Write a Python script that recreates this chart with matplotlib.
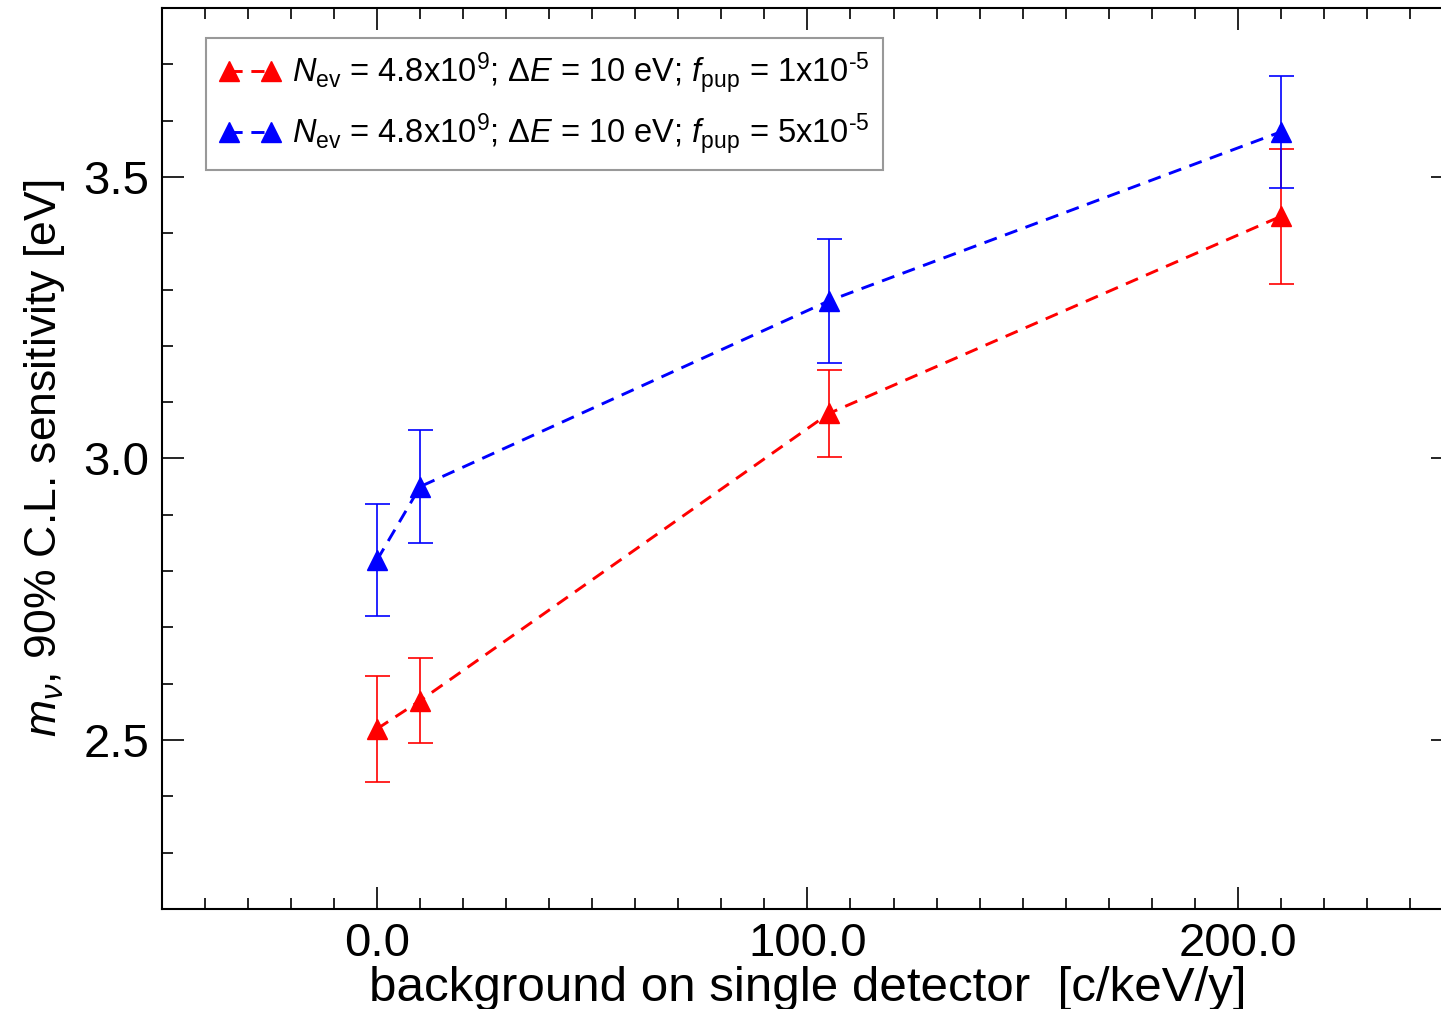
import matplotlib
matplotlib.use('Agg')
import matplotlib.pyplot as plt
from matplotlib.ticker import MultipleLocator, FormatStrFormatter

plt.rcParams['font.family'] = ['Liberation Sans', 'DejaVu Sans']
plt.rcParams['mathtext.fontset'] = 'custom'
plt.rcParams['mathtext.rm'] = 'Liberation Sans'
plt.rcParams['mathtext.it'] = 'Liberation Sans:italic'
plt.rcParams['mathtext.bf'] = 'Liberation Sans:bold'

# background rate [c/keV/y] and 90% C.L. sensitivity on m_nu [eV]
bkg = [0, 10, 105, 210]
sens_f1 = [2.52, 2.57, 3.08, 3.43]
err_f1 = [0.094, 0.075, 0.078, 0.12]
sens_f5 = [2.82, 2.95, 3.28, 3.58]
err_f5 = [0.10, 0.10, 0.11, 0.10]

lab_f1 = r'$N_{\rm ev}$ = 4.8x10$^{9}$; $\Delta E$ = 10 eV; $f_{\rm pup}$ = 1x10$^{\text{-}5}$'
lab_f5 = r'$N_{\rm ev}$ = 4.8x10$^{9}$; $\Delta E$ = 10 eV; $f_{\rm pup}$ = 5x10$^{\text{-}5}$'

fig = plt.figure(figsize=(14.41, 10.09), dpi=100)
ax = fig.add_axes([0.1124, 0.0991, 0.8959, 0.8930])

for y, e, c, lab in [(sens_f1, err_f1, 'red', lab_f1),
                     (sens_f5, err_f5, 'blue', lab_f5)]:
    ax.errorbar(bkg, y, yerr=e, fmt='none', ecolor=c, elinewidth=1.2,
                capsize=9, capthick=1.2, zorder=2)
    ax.plot(bkg, y, color=c, ls=(0, (4.5, 3)), lw=2.1, marker='^',
            ms=14, label=lab, zorder=3)

ax.set_xlim(-50, 250)
ax.set_ylim(2.2, 3.8)
ax.xaxis.set_major_locator(MultipleLocator(100))
ax.xaxis.set_minor_locator(MultipleLocator(10))
ax.yaxis.set_major_locator(MultipleLocator(0.5))
ax.yaxis.set_minor_locator(MultipleLocator(0.1))
ax.xaxis.set_major_formatter(FormatStrFormatter('%.1f'))
ax.yaxis.set_major_formatter(FormatStrFormatter('%.1f'))
ax.tick_params(which='both', direction='in', top=True, right=True,
               width=1.2, labelsize=34, pad=9)
ax.tick_params(which='major', length=16)
ax.tick_params(which='minor', length=8)
for sp in ax.spines.values():
    sp.set_linewidth(1.5)

ax.set_xlabel('background on single detector  [c/keV/y]', fontsize=35.5,
              labelpad=0)
ax.set_ylabel(r'$m_{\nu}$, 90% C.L. sensitivity [eV]', fontsize=32,
              labelpad=12)

leg = ax.legend(loc='upper left', bbox_to_anchor=(0.034, 0.967),
                borderaxespad=0, fontsize=23.5, numpoints=2, handlelength=1.9,
                fancybox=False, framealpha=1, edgecolor='#999999',
                borderpad=0.4, labelspacing=0.5, handletextpad=0.35)
leg.get_frame().set_linewidth(1.5)

fig.savefig('out.png', dpi=100)
